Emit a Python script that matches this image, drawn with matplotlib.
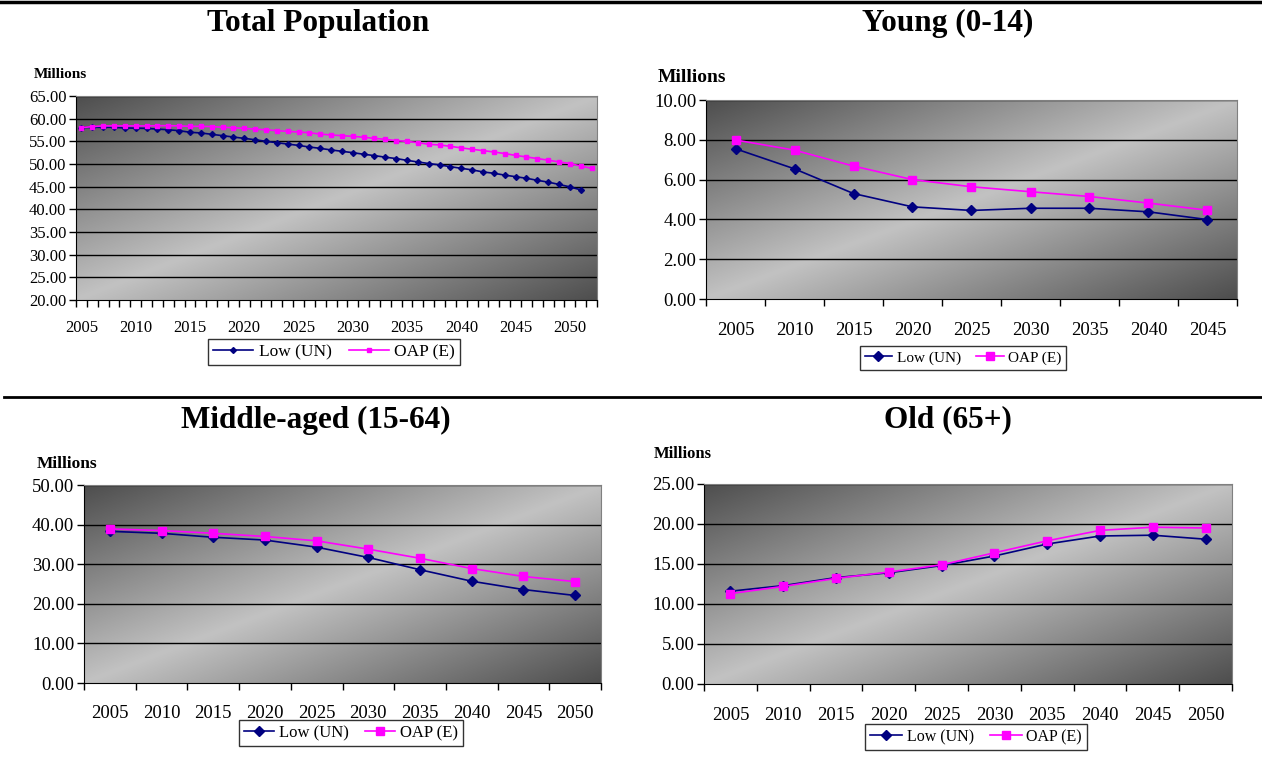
import numpy as np
import matplotlib.pyplot as plt
from matplotlib.colors import LinearSegmentedColormap
from matplotlib.lines import Line2D

#--------------------------------------------#
# data (millions)
total_years = [str(y) for y in range(2005, 2053)]
total_low = [58.0, 58.1, 58.1, 58.1, 57.95, 57.9, 57.85, 57.7, 57.55, 57.35,
             57.0, 56.85, 56.55, 56.25, 55.95, 55.65, 55.35, 55.0, 54.7, 54.4,
             54.1, 53.75, 53.45, 53.1, 52.8, 52.5, 52.15, 51.85, 51.5, 51.2,
             50.8, 50.45, 50.1, 49.8, 49.4, 49.05, 48.7, 48.25, 47.95, 47.55,
             47.2, 46.85, 46.4, 46.0, 45.5, 44.95, 44.3]
total_oap = [58.0, 58.25, 58.4, 58.4, 58.4, 58.4, 58.4, 58.45, 58.45, 58.4,
             58.3, 58.3, 58.25, 58.1, 58.0, 57.85, 57.7, 57.55, 57.35, 57.2,
             57.05, 56.9, 56.6, 56.4, 56.25, 56.1, 55.9, 55.65, 55.45, 55.15,
             55.0, 54.7, 54.35, 54.2, 53.9, 53.55, 53.25, 52.95, 52.65, 52.3,
             51.9, 51.55, 51.2, 50.85, 50.45, 50.1, 49.55, 49.05]

young_years = ['2005', '2010', '2015', '2020', '2025', '2030', '2035', '2040', '2045']
young_low = [7.55, 6.54, 5.30, 4.63, 4.45, 4.56, 4.56, 4.38, 3.99]
young_oap = [7.99, 7.48, 6.68, 6.00, 5.64, 5.39, 5.15, 4.82, 4.46]

years5 = ['2005', '2010', '2015', '2020', '2025', '2030', '2035', '2040', '2045', '2050']
middle_low = [38.3, 37.8, 36.8, 36.1, 34.3, 31.7, 28.6, 25.7, 23.6, 22.1]
middle_oap = [38.9, 38.5, 37.8, 37.0, 35.9, 33.8, 31.5, 28.9, 26.9, 25.6]
old_low = [11.6, 12.3, 13.3, 13.9, 14.8, 16.0, 17.5, 18.5, 18.6, 18.1]
old_oap = [11.3, 12.2, 13.2, 14.0, 14.9, 16.4, 17.9, 19.2, 19.6, 19.5]

#--------------------------------------------#
# config
W, H = 1262, 758
plt.rcParams['font.family'] = ['Liberation Serif', 'DejaVu Serif']
LOW_C = '#000080'
OAP_C = '#ff00ff'
grad = LinearSegmentedColormap.from_list('xl', ['#c2c2c2', '#4e4e4e'])

fig = plt.figure(figsize=(W/100, H/100), dpi=100)


def px_axes(l, t, r, b):
    return fig.add_axes([l/W, 1 - b/H, (r - l)/W, (b - t)/H])


def fx(x):
    return x / W


def fy(y):
    return 1 - y / H


def draw_panel(box, cats, low, oap, ylim, ystep, every, fs, ms, mill, leg, lfs, hl):
    ax = px_axes(*box)
    # excel style diagonal gradient
    u, v = np.meshgrid(np.linspace(0, 1, 300), np.linspace(1, 0, 150))
    ax.imshow(np.abs(u - v), cmap=grad, extent=[0, 1, 0, 1], transform=ax.transAxes,
              aspect='auto', zorder=0, vmin=0, vmax=1, interpolation='bilinear')
    n = len(cats)
    ax.set_xlim(-0.5, n - 0.5)
    ax.set_ylim(*ylim)
    yt = np.arange(ylim[0], ylim[1] + ystep/2, ystep)
    ax.set_yticks(yt)
    ax.set_yticklabels([f'{t:.2f}' for t in yt], fontsize=fs)
    for t in yt[1:]:
        ax.axhline(t, color='black', lw=1, zorder=1)
    ax.set_xticks(np.arange(n + 1) - 0.5)
    ax.set_xticklabels([])
    idx = list(range(0, n, every))
    ax.set_xticks(idx, minor=True)
    ax.set_xticklabels([cats[i] for i in idx], minor=True, fontsize=fs)
    ax.tick_params(axis='x', which='minor', length=0, pad=fs * 1.2)
    ax.tick_params(axis='x', which='major', length=5, width=1, direction='out')
    ax.tick_params(axis='y', length=5, width=1, direction='out', pad=2)
    for s in ['top', 'right']:
        ax.spines[s].set_color('#808080')
    ax.spines['left'].set_color('black')
    ax.spines['bottom'].set_color('black')
    ax.plot(range(len(low)), low, '-D', color=LOW_C, lw=1.2, ms=ms, label='Low (UN)', zorder=3)
    ax.plot(range(len(oap)), oap, '-s', color=OAP_C, lw=1.2, ms=ms + 0.5, label='OAP (E)', zorder=3)
    fig.text(fx(mill[0]), fy(mill[1]), 'Millions', fontsize=mill[2], fontweight='bold',
             ha='left', va='center')
    lg = ax.legend(loc='center', bbox_to_anchor=(fx(leg[0]), fy(leg[1])),
                   bbox_transform=fig.transFigure, ncol=2, fontsize=lfs, frameon=True,
                   fancybox=False, edgecolor='black', handlelength=hl, handletextpad=0.3,
                   columnspacing=1.0, borderpad=0.3, markerscale=1.0)
    lg.get_frame().set_linewidth(1)
    return ax


# Total population
draw_panel((76, 96, 597, 300), total_years, total_low, total_oap, (20, 65), 5, 5,
           12, 3.0, (34, 74, 11), (334, 352), 12.5, 2.3)
# Young
draw_panel((706, 100, 1237, 299), young_years, young_low, young_oap, (0, 10), 2, 1,
           13.5, 5.5, (658, 78, 14), (963, 358), 11, 1.8)
# Middle-aged
draw_panel((84, 485, 601, 683), years5, middle_low, middle_oap, (0, 50), 10, 1,
           13.5, 5.0, (37, 464, 12.5), (351, 733), 12, 1.8)
# Old
draw_panel((704, 484, 1232, 684), years5, old_low, old_oap, (0, 25), 5, 1,
           13.5, 5.5, (654, 454, 12), (976, 737), 11.5, 2.0)

# titles
titles = ['Total Population', 'Young (0-14)', 'Middle-aged (15-64)', 'Old (65+)']
tpos = [(318, 23), (948, 23), (316, 420), (948, 420)]
for t, (x, y) in zip(titles, tpos):
    fig.text(fx(x), fy(y), t, fontsize=22.5, fontweight='bold', ha='center', va='center')

# separator rules
fig.add_artist(Line2D([0, 1], [fy(1.5), fy(1.5)], transform=fig.transFigure, color='black', lw=2.5))
fig.add_artist(Line2D([fx(4), 1], [fy(397), fy(397)], transform=fig.transFigure, color='black', lw=2))

fig.savefig('out.png', dpi=100)
